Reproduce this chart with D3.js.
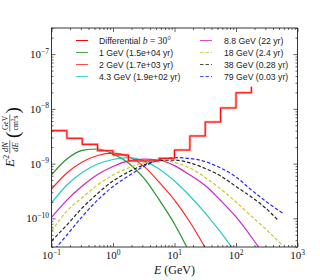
<!DOCTYPE html>
<html>
<head>
<meta charset="utf-8">
<script src="https://cdn.jsdelivr.net/npm/d3@7"></script>
<style>
  body { margin: 0; background: #fff; }
  svg { display: block; }
</style>
</head>
<body>
<div id="vis-container"></div>
<script>
// ---- data ----
// differential histogram: left bin edges (GeV), value per bin, last entry is the closing step
const binEdges = [0.1, 0.178, 0.316, 0.562, 1, 1.78, 3.16, 5.62, 10, 17.8, 31.6, 56.2, 100, 178];
const diffFlux = [4.0e-9, 2.9e-9, 2.25e-9, 1.72e-9, 1.44e-9, 1.12e-9, 1.12e-9, 1.25e-9,
                  1.77e-9, 3.2e-9, 5.75e-9, 1.04e-8, 1.97e-8, 2.54e-8];

// energies where the model curves were sampled
const energies = [0.1, 0.178, 0.316, 0.562, 1, 1.78, 3.16, 5.62, 10, 17.8, 31.6, 56.2, 100, 178, 316, 562];
const energiesBlack = [0.1, 0.178, 0.316, 0.562, 1, 1.78, 3.16, 5.62, 10, 17.8, 31.6, 56.2, 100, 178, 316, 479];
const energiesBlue = [0.1, 0.178, 0.316, 0.562, 1, 1.78, 3.16, 5.62, 10, 17.8, 31.6, 56.2, 100, 178, 316, 575];

const flux1GeV = [6.2e-10, 1.21e-9, 1.74e-9, 1.85e-9, 1.50e-9, 1.03e-9, 5.5e-10, 2.2e-10, 7.9e-11, 2.3e-11];
const flux2GeV = [3.44e-10, 6.74e-10, 1.07e-9, 1.41e-9, 1.56e-9, 1.35e-9, 9.0e-10, 4.6e-10,
                  2.16e-10, 8.6e-11, 2.9e-11, 8.9e-12];
const flux4GeV = [1.91e-10, 4.07e-10, 6.89e-10, 9.84e-10, 1.19e-9, 1.29e-9, 1.12e-9, 7.98e-10,
                  4.81e-10, 2.56e-10, 1.25e-10, 5.6e-11, 2.3e-11];
const flux9GeV = [1.04e-10, 2.16e-10, 3.90e-10, 6.33e-10, 8.85e-10, 1.12e-9, 1.21e-9, 1.16e-9,
                  9.2e-10, 6.2e-10, 3.98e-10, 2.12e-10, 1.06e-10, 4.57e-11, 1.81e-11];
const flux18GeV = [5.87e-11, 1.36e-10, 2.40e-10, 4.07e-10, 6.19e-10, 8.32e-10, 1.03e-9, 1.14e-9,
                   1.05e-9, 8.32e-10, 5.57e-10, 3.44e-10, 1.99e-10, 1.10e-10, 6.12e-11, 3.26e-11];
const flux38GeV = [3.86e-11, 7.57e-11, 1.55e-10, 2.84e-10, 4.81e-10, 7.03e-10, 9.44e-10, 1.14e-9,
                   1.16e-9, 1.03e-9, 8.15e-10, 5.94e-10, 3.82e-10, 2.45e-10, 1.48e-10, 9.33e-11];
const flux79GeV = [2.35e-11, 4.97e-11, 1.08e-10, 2.16e-10, 3.82e-10, 5.94e-10, 8.85e-10, 1.16e-9,
                   1.29e-9, 1.24e-9, 1.09e-9, 8.32e-10, 5.70e-10, 3.30e-10, 1.99e-10, 1.24e-10];

const modelLabels = ["1 GeV (1.5e+04 yr)", "2 GeV (1.7e+03 yr)", "4.3 GeV (1.9e+02 yr)", "8.8 GeV (22 yr)",
                     "18 GeV (2.4 yr)", "38 GeV (0.28 yr)", "79 GeV (0.03 yr)"];
const modelColors = ["#008000", "#ff0000", "#00bfbf", "#bf00bf", "#bfbf00", "#000000", "#0000ff"];

const xTicks = [0.1, 1, 10, 100, 1000];
const xTickExp = ["\u22121", "0", "1", "2", "3"];
const yTicks = [1e-7, 1e-8, 1e-9, 1e-10];
const yTickExp = ["\u22127", "\u22128", "\u22129", "\u221210"];

// ---- layout ----
const width = 320;
const height = 280;
const margin = { top: 28, right: 22.5, bottom: 33, left: 51.5 };
const serif = "'Liberation Serif', 'DejaVu Serif', serif";
const sans = "'Liberation Sans', Arial, sans-serif";

const svg = d3.select("#vis-container")
    .append("svg")
    .attr("width", width)
    .attr("height", height);

const x = d3.scaleLog()
    .domain([0.1, 1000])
    .range([margin.left, width - margin.right]);

const y = d3.scaleLog()
    .domain([3e-11, 3e-7])
    .range([height - margin.bottom, margin.top]);

svg.append("clipPath").attr("id", "plot-clip")
    .append("rect")
    .attr("x", margin.left).attr("y", margin.top)
    .attr("width", x.range()[1] - x.range()[0])
    .attr("height", y.range()[0] - y.range()[1]);

// build the series table from the arrays
const models = [
    { e: energies, v: flux1GeV, dash: null },
    { e: energies, v: flux2GeV, dash: null },
    { e: energies, v: flux4GeV, dash: null },
    { e: energies, v: flux9GeV, dash: null },
    { e: energies, v: flux18GeV, dash: "3.5,2" },
    { e: energiesBlack, v: flux38GeV, dash: "3.5,2" },
    { e: energiesBlue, v: flux79GeV, dash: "3.5,2" }
].map((m, i) => ({
    label: modelLabels[i],
    color: modelColors[i],
    dash: m.dash,
    points: m.v.map((v, j) => [m.e[j], v])
}));

const line = d3.line()
    .x(d => x(d[0]))
    .y(d => y(d[1]))
    .curve(d3.curveMonotoneX);

const plot = svg.append("g").attr("clip-path", "url(#plot-clip)");

// model curves
plot.selectAll("path.model")
    .data(models)
    .enter()
    .append("path")
        .attr("class", "model")
        .attr("d", d => line(d.points))
        .attr("fill", "none")
        .attr("stroke", d => d.color)
        .attr("stroke-width", 1.2)
        .attr("stroke-opacity", 0.85)
        .attr("stroke-dasharray", d => d.dash);

// differential histogram (steps)
const histPoints = diffFlux.map((v, i) => [binEdges[i], v]);
const stepLine = d3.line()
    .x(d => x(d[0]))
    .y(d => y(d[1]))
    .curve(d3.curveStepAfter);

plot.append("path")
    .attr("d", stepLine(histPoints))
    .attr("fill", "none")
    .attr("stroke", "#ff7070")
    .attr("stroke-opacity", 0.6)
    .attr("stroke-width", 2.6);

plot.append("path")
    .attr("d", stepLine(histPoints))
    .attr("fill", "none")
    .attr("stroke", "#ff0000")
    .attr("stroke-width", 1);

// ---- axes (ticks inward on all four sides) ----
const xMinor = [];
for (let d = 0.1; d < 1000; d *= 10) for (let k = 2; k <= 9; k++) xMinor.push(d * k);
const yMinor = [];
for (let d = 1e-11; d < 1e-6; d *= 10) for (let k = 2; k <= 9; k++) {
    const v = d * k;
    if (v >= 3e-11 && v <= 3e-7) yMinor.push(v);
}

function addAxis(axisFn, scale, values, size, transform) {
    svg.append("g")
        .attr("transform", transform)
        .call(axisFn(scale).tickValues(values).tickSize(-size).tickFormat(""))
        .call(g => g.select(".domain").remove())
        .call(g => g.selectAll("line").attr("stroke", "#222").attr("stroke-width", 0.7));
}

const bottomY = height - margin.bottom;
const rightX = width - margin.right;
addAxis(d3.axisBottom, x, xTicks, 4, `translate(0,${bottomY})`);
addAxis(d3.axisBottom, x, xMinor, 2, `translate(0,${bottomY})`);
addAxis(d3.axisTop, x, xTicks, 4, `translate(0,${margin.top})`);
addAxis(d3.axisTop, x, xMinor, 2, `translate(0,${margin.top})`);
addAxis(d3.axisLeft, y, yTicks, 4, `translate(${margin.left},0)`);
addAxis(d3.axisLeft, y, yMinor, 2, `translate(${margin.left},0)`);
addAxis(d3.axisRight, y, yTicks, 4, `translate(${rightX},0)`);
addAxis(d3.axisRight, y, yMinor, 2, `translate(${rightX},0)`);

// frame
svg.append("rect")
    .attr("x", margin.left).attr("y", margin.top)
    .attr("width", rightX - margin.left)
    .attr("height", bottomY - margin.top)
    .attr("fill", "none")
    .attr("stroke", "#222")
    .attr("stroke-width", 0.9);

// tick labels as 10^n
const xLab = svg.append("g").attr("font-family", serif).attr("fill", "#111");
xTicks.forEach((t, i) => {
    const txt = xLab.append("text")
        .attr("x", x(t)).attr("y", bottomY + 12)
        .attr("text-anchor", "middle")
        .attr("font-size", 11);
    txt.append("tspan").text("10");
    txt.append("tspan").attr("dy", -4.5).attr("font-size", 7.5).text(xTickExp[i]);
});

const yLab = svg.append("g").attr("font-family", serif).attr("fill", "#111");
yTicks.forEach((t, i) => {
    const txt = yLab.append("text")
        .attr("x", margin.left - 2.5).attr("y", y(t) + 4)
        .attr("text-anchor", "end")
        .attr("font-size", 11);
    txt.append("tspan").text("10");
    txt.append("tspan").attr("dy", -4.5).attr("font-size", 7.5).text(yTickExp[i]);
});

// x label
const xTitle = svg.append("text")
    .attr("x", (margin.left + rightX) / 2)
    .attr("y", 274)
    .attr("text-anchor", "middle")
    .attr("font-family", serif)
    .attr("font-size", 12)
    .attr("fill", "#111");
xTitle.append("tspan").attr("font-style", "italic").text("E");
xTitle.append("tspan").text(" (GeV)");

// y label, laid out horizontally then rotated
const yTitle = svg.append("g")
    .attr("transform", "translate(14,167) rotate(-90)")
    .attr("font-family", serif)
    .attr("fill", "#111");
yTitle.append("text").attr("x", 0).attr("y", 0).attr("font-size", 13)
    .attr("font-style", "italic").text("E");
yTitle.append("text").attr("x", 8.3).attr("y", -5.5).attr("font-size", 8).text("2");
yTitle.append("text").attr("x", 20).attr("y", -6).attr("font-size", 8.5)
    .attr("text-anchor", "middle").attr("font-style", "italic").text("dN");
yTitle.append("line").attr("x1", 13.5).attr("x2", 26.5).attr("y1", -4.2).attr("y2", -4.2)
    .attr("stroke", "#111").attr("stroke-width", 0.6);
yTitle.append("text").attr("x", 20).attr("y", 4).attr("font-size", 8.5)
    .attr("text-anchor", "middle").attr("font-style", "italic").text("dE");
yTitle.append("text").attr("x", 29).attr("y", 4.5).attr("font-size", 19).text("(");
yTitle.append("text").attr("x", 44).attr("y", -6).attr("font-size", 7.5)
    .attr("text-anchor", "middle").text("GeV");
yTitle.append("line").attr("x1", 35.5).attr("x2", 52.5).attr("y1", -4.2).attr("y2", -4.2)
    .attr("stroke", "#111").attr("stroke-width", 0.6);
const units = yTitle.append("text").attr("x", 44).attr("y", 4).attr("font-size", 7.5)
    .attr("text-anchor", "middle");
units.append("tspan").text("cm");
units.append("tspan").attr("dy", -2.8).attr("font-size", 5.5).text("2");
units.append("tspan").attr("dy", 2.8).text("s");
yTitle.append("text").attr("x", 53.5).attr("y", 4.5).attr("font-size", 19).text(")");

// ---- legend ----
const legendRows = [40.5, 52.5, 64.5, 76.5];
const legend = svg.append("g").attr("font-family", sans).attr("font-size", 8.7).attr("fill", "#222");

const legendItems = [{ label: null, color: "#ff0000", dash: null }].concat(models);
legendItems.forEach((d, i) => {
    const col = i < 4 ? 0 : 1;
    const row = i % 4;
    const lx = col === 0 ? 76 : 200;
    const tx = col === 0 ? 99 : 224;
    const ly = legendRows[row];
    legend.append("line")
        .attr("x1", lx).attr("x2", lx + 12)
        .attr("y1", ly).attr("y2", ly)
        .attr("stroke", d.color)
        .attr("stroke-width", 1)
        .attr("stroke-opacity", i === 0 ? 1 : 0.7)
        .attr("stroke-dasharray", d.dash);
    const txt = legend.append("text").attr("x", tx).attr("y", ly + 3);
    if (i === 0) {
        txt.append("tspan").text("Differential ");
        txt.append("tspan").attr("font-family", serif).attr("font-style", "italic").attr("font-size", 9.5).text("b");
        txt.append("tspan").attr("font-family", serif).attr("font-size", 9.5).text(" = 30\u00b0");
    } else {
        txt.text(d.label);
    }
});
</script>
</body>
</html>
